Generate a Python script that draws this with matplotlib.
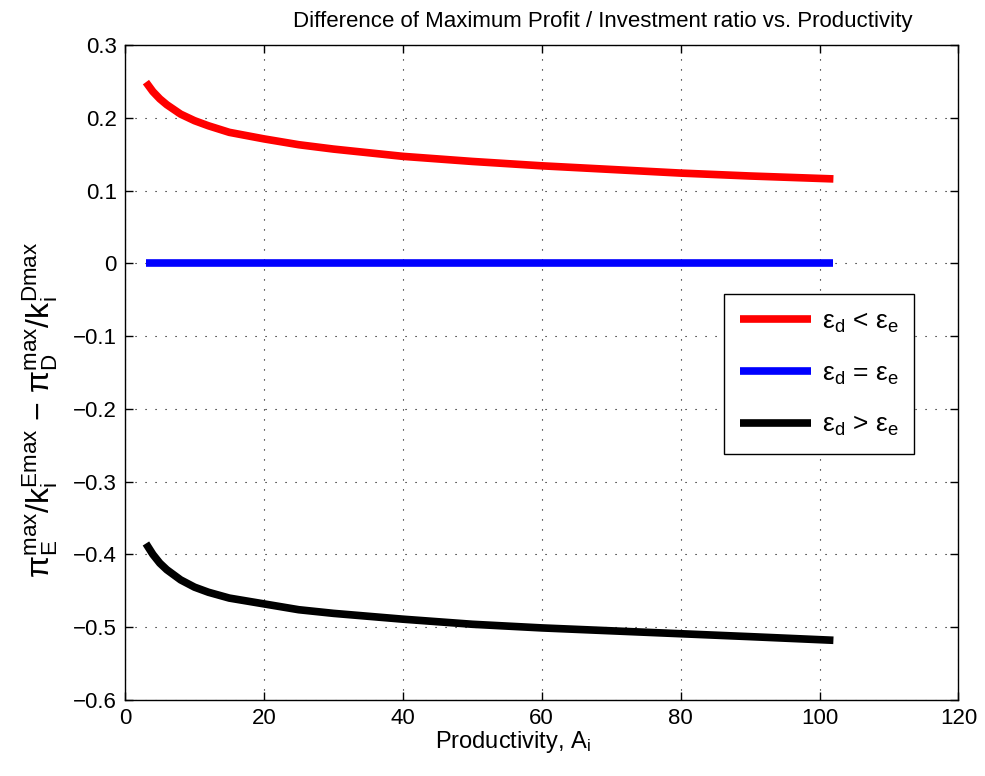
import matplotlib
matplotlib.use('Agg')
import matplotlib.pyplot as plt

plt.rcParams['font.family'] = ['Liberation Sans', 'DejaVu Sans']
plt.rcParams['mathtext.fontset'] = 'custom'
plt.rcParams['mathtext.rm'] = 'Liberation Sans'
plt.rcParams['mathtext.it'] = 'Liberation Sans:italic'

productivity = [3, 4, 5, 6, 8, 10, 12, 15, 20, 25, 30, 40, 50, 60, 70, 80, 90, 102]
diff_less = [0.249, 0.236, 0.226, 0.218, 0.205, 0.196, 0.189, 0.180, 0.171, 0.163,
             0.157, 0.147, 0.140, 0.134, 0.129, 0.124, 0.120, 0.116]
diff_equal = [0.0] * len(productivity)
diff_greater = [-0.385, -0.400, -0.412, -0.421, -0.435, -0.445, -0.452, -0.460, -0.468,
                -0.476, -0.481, -0.489, -0.496, -0.501, -0.505, -0.509, -0.513, -0.518]

labels = ['ε$_\\mathrm{d}$ < ε$_\\mathrm{e}$',
          'ε$_\\mathrm{d}$ = ε$_\\mathrm{e}$',
          'ε$_\\mathrm{d}$ > ε$_\\mathrm{e}$']
colors = ['#ff0000', '#0000ff', '#000000']

x_ticks = [0, 20, 40, 60, 80, 100, 120]
y_ticks = [-0.6, -0.5, -0.4, -0.3, -0.2, -0.1, 0, 0.1, 0.2, 0.3]
y_ticklabels = ['\u22120.6', '\u22120.5', '\u22120.4', '\u22120.3', '\u22120.2',
                '\u22120.1', '0', '0.1', '0.2', '0.3']

fig = plt.figure(figsize=(9.85, 7.76), dpi=100)
ax = fig.add_axes([0.127, 0.098, 0.846, 0.844])

for ys, lab, c in zip([diff_less, diff_equal, diff_greater], labels, colors):
    ax.plot(productivity, ys, color=c, linewidth=5.5, label=lab, solid_capstyle='butt')

ax.set_xlim(0, 120)
ax.set_ylim(-0.6, 0.3)
ax.set_xticks(x_ticks)
ax.set_yticks(y_ticks)
ax.set_yticklabels(y_ticklabels)
ax.tick_params(direction='in', top=True, right=True, labelsize=16, length=6, width=1,
               pad=6)
ax.grid(True, linestyle=(0, (1, 8)), color='black', linewidth=0.8)
for s in ax.spines.values():
    s.set_linewidth(1.0)

ax.set_title('Difference of Maximum Profit / Investment ratio vs. Productivity',
             fontsize=16, pad=13, x=0.573)
ax.set_xlabel('Productivity, A$_\\mathrm{i}$', fontsize=17, labelpad=1)
ax.xaxis.set_label_coords(0.465, -0.045)
ax.set_ylabel('π$_\\mathrm{E}^\\mathrm{max}$/k$_\\mathrm{i}^\\mathrm{Emax}$ − '
              'π$_\\mathrm{D}^\\mathrm{max}$/k$_\\mathrm{i}^\\mathrm{Dmax}$',
              fontsize=23)
ax.yaxis.set_label_coords(-0.078, 0.443)

leg = ax.legend(loc='upper right', bbox_to_anchor=(0.947, 0.62), fontsize=19,
                fancybox=False, edgecolor='black', framealpha=1,
                handlelength=2.7, handletextpad=0.4, borderpad=0.6,
                labelspacing=1.0, borderaxespad=0)
leg.get_frame().set_linewidth(1.0)

fig.savefig('out.png', dpi=100)
